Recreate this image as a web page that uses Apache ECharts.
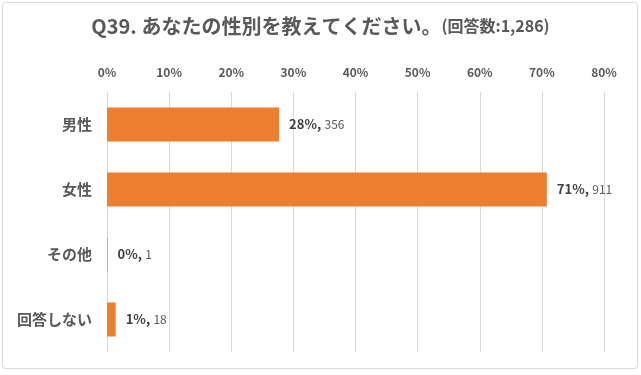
<!DOCTYPE html>
<html>
<head>
<meta charset="utf-8">
<script src="https://cdn.jsdelivr.net/npm/echarts@6/dist/echarts.min.js"></script>
<style>
html,body{margin:0;padding:0;background:#fff;}
#c{width:641px;height:375px;}
</style>
</head>
<body>
<div id="c"></div>
<script>
const titleMain = 'Q39. あなたの性別を教えてください。';
const titleSub = '(回答数:1,286)';
const categories = ['男性', '女性', 'その他', '回答しない'];
const percentValues = [27.7, 70.8, 0.08, 1.4];
const percentLabels = ['28%', '71%', '0%', '1%'];
const countValues = [356, 911, 1, 18];
const xTicks = [0, 10, 20, 30, 40, 50, 60, 70, 80];

const chart = echarts.init(document.getElementById('c'), null, {renderer: 'canvas'});
const font = '"Noto Sans CJK JP", "Noto Sans", sans-serif';
chart.setOption({
  animation: false,
  backgroundColor: '#fff',
  graphic: [{
    type: 'rect', silent: true, z: -1,
    shape: {x: 2.5, y: 2.5, width: 635, height: 366, r: 3},
    style: {fill: '#fff', stroke: '#d9d9d9', lineWidth: 1}
  }],
  title: {
    text: '{a|' + titleMain + '}{b|' + titleSub + '}',
    left: 'center', top: 11,
    textStyle: {
      rich: {
        a: {fontSize: 20, fontWeight: 'bold', color: '#595959', fontFamily: font},
        b: {fontSize: 16, fontWeight: 'bold', color: '#595959', fontFamily: font}
      }
    }
  },
  grid: {left: 107, right: 37, top: 92, bottom: 23, containLabel: false},
  xAxis: {
    type: 'value', position: 'top',
    min: xTicks[0], max: xTicks[xTicks.length - 1], interval: 10,
    axisLine: {show: false}, axisTick: {show: false},
    axisLabel: {
      formatter: v => v + '%', color: '#595959', fontSize: 12, fontWeight: 'bold', margin: 14,
      fontFamily: font
    },
    splitLine: {show: true, lineStyle: {color: '#d9d9d9', width: 1}}
  },
  yAxis: {
    type: 'category', inverse: true, data: categories,
    axisLine: {show: false}, axisTick: {show: false},
    axisLabel: {color: '#595959', fontSize: 15, fontWeight: 'bold', margin: 15, fontFamily: font}
  },
  series: [{
    type: 'bar',
    data: percentValues,
    barWidth: 34,
    itemStyle: {color: '#ed7d31'},
    label: {
      show: true, position: 'right', distance: 10,
      formatter: p => '{p|' + percentLabels[p.dataIndex] + ',} {n|' + countValues[p.dataIndex] + '}',
      rich: {
        p: {fontSize: 13, fontWeight: 'bold', color: '#404040', fontFamily: font},
        n: {fontSize: 12, color: '#595959', fontFamily: font}
      }
    }
  }]
});
</script>
</body>
</html>
